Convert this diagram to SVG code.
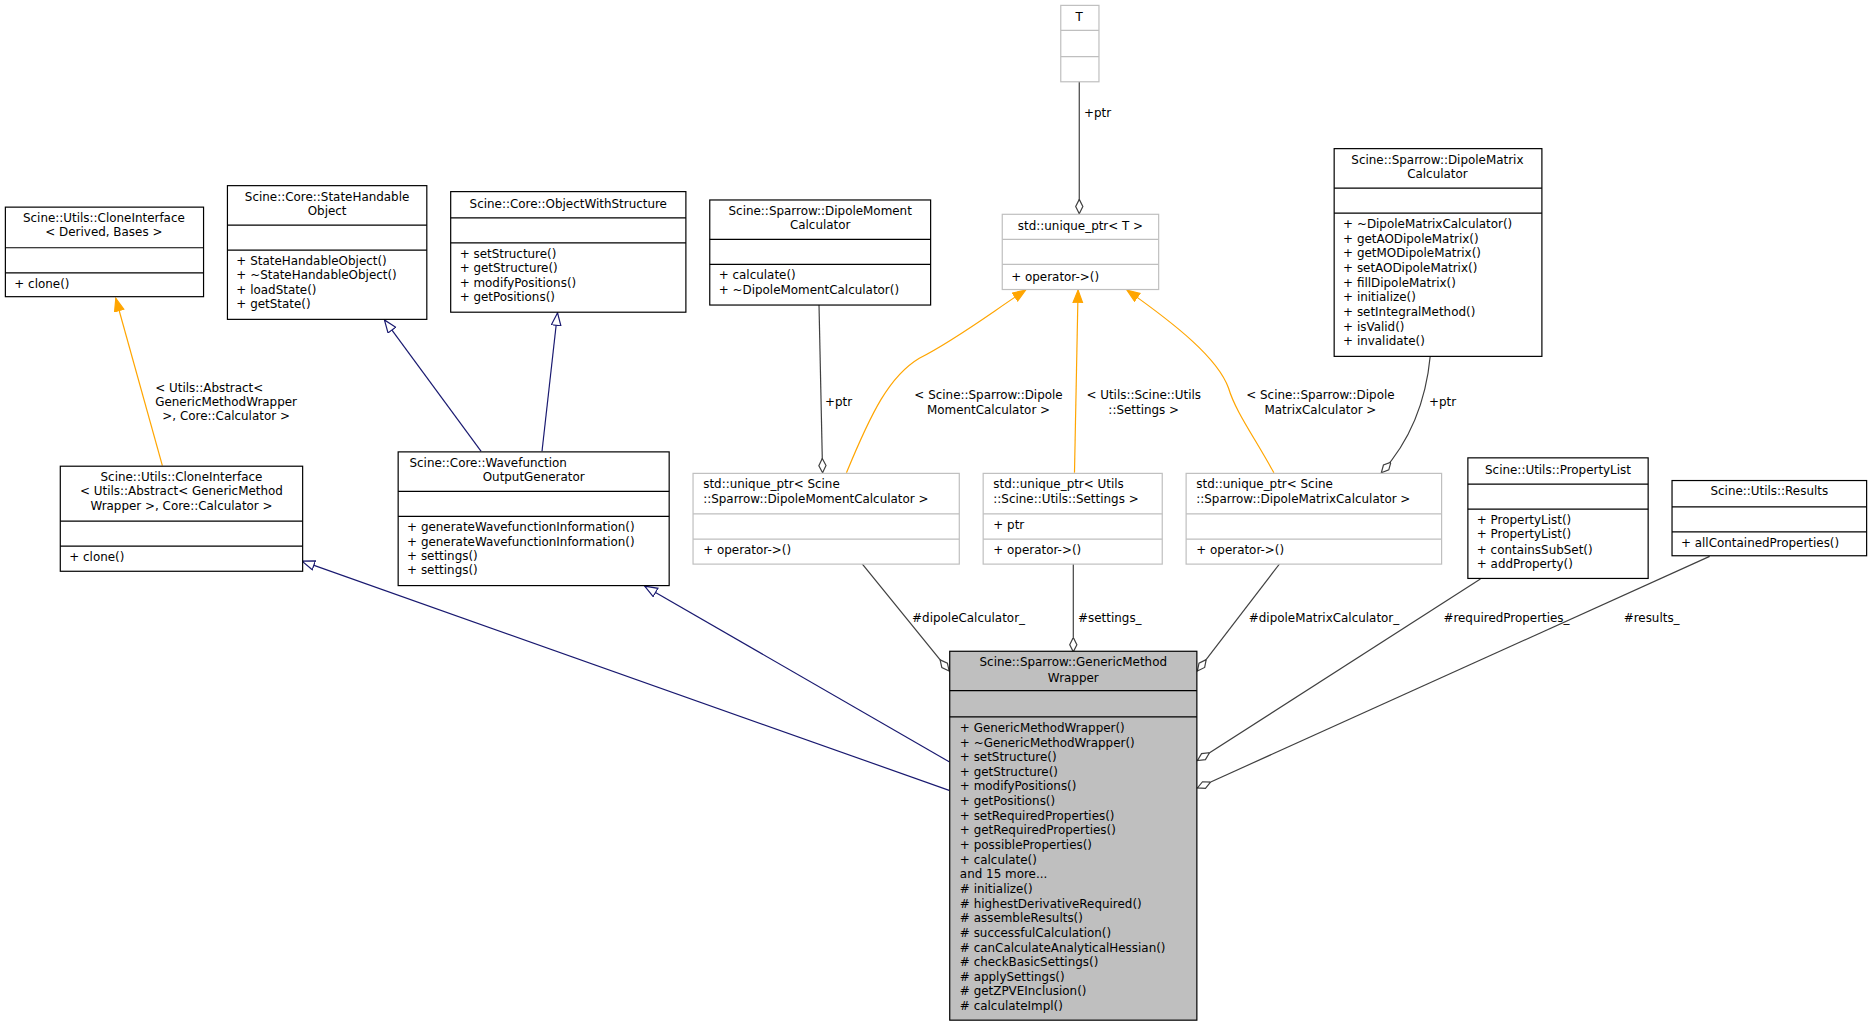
<svg xmlns="http://www.w3.org/2000/svg" width="1872" height="1027" viewBox="0 0 1872 1027">
<style>
text{font-family:"DejaVu Sans",sans-serif;font-size:10px;fill:#000}
.c{text-anchor:middle}
.b{fill:#fff;stroke:#000;stroke-width:1}
.g{fill:#fff;stroke:#bfbfbf;stroke-width:1}
.m{fill:#bfbfbf;stroke:#000;stroke-width:1}
.l{stroke:#000;stroke-width:1}
.lg{stroke:#bfbfbf;stroke-width:1}
.e{fill:none;stroke:#404040;stroke-width:1}
.n{fill:none;stroke:#191970;stroke-width:1}
.o{fill:none;stroke:#ffa500;stroke-width:1}
</style>
<defs>
<marker id="dia" markerUnits="userSpaceOnUse" markerWidth="14" markerHeight="8" refX="12" refY="4" orient="auto"><path d="M0,4 L6,1 L12,4 L6,7 Z" fill="#fff" stroke="#404040"/></marker>
<marker id="tri" markerUnits="userSpaceOnUse" markerWidth="13" markerHeight="10" refX="11" refY="4.5" orient="auto"><path d="M0.5,0.5 L11,4.5 L0.5,8.5 Z" fill="#fff" stroke="#191970"/></marker>
<marker id="ora" markerUnits="userSpaceOnUse" markerWidth="13" markerHeight="10" refX="11" refY="4.5" orient="auto"><path d="M0.5,0.5 L11,4.5 L0.5,8.5 Z" fill="#ffa500" stroke="#ffa500"/></marker>
</defs>
<rect width="1872" height="1027" fill="#fff"/>
<g transform="scale(1.19388)">
<g id="connectors">
<path class="o" d="M136,390 L97,250" marker-end="url(#ora)"/>
<text x="130" y="328">&lt; Utils::Abstract&lt;</text>
<text x="130" y="340">GenericMethodWrapper</text>
<text x="136" y="352"> &gt;, Core::Calculator &gt;</text>
<path class="n" d="M403,378 L322,268" marker-end="url(#tri)"/>
<path class="n" d="M454,378 L467,262" marker-end="url(#tri)"/>
<path class="e" d="M686,255 L689,396" marker-end="url(#dia)"/>
<text x="691" y="340">+ptr</text>
<path class="e" d="M904,68 L904,179" marker-end="url(#dia)"/>
<text x="908" y="98">+ptr</text>
<path class="o" d="M709,396 C730,345 745,315 770,300 C800,285 830,262 859,243" marker-end="url(#ora)"/>
<text class="c" x="828" y="334">&lt; Scine::Sparrow::Dipole</text>
<text class="c" x="828" y="347">MomentCalculator &gt;</text>
<path class="o" d="M900,396 L903,243" marker-end="url(#ora)"/>
<text class="c" x="958" y="334">&lt; Utils::Scine::Utils</text>
<text class="c" x="958" y="347">::Settings &gt;</text>
<path class="o" d="M1067,396 C1050,365 1035,345 1029,325 C1020,300 985,272 944,243" marker-end="url(#ora)"/>
<text class="c" x="1106" y="334">&lt; Scine::Sparrow::Dipole</text>
<text class="c" x="1106" y="347">MatrixCalculator &gt;</text>
<path class="e" d="M1198,298 C1195,330 1185,365 1157,396" marker-end="url(#dia)"/>
<text x="1197" y="340">+ptr</text>
<path class="e" d="M722,472 L795,562" marker-end="url(#dia)"/>
<text x="764" y="521">#dipoleCalculator_</text>
<path class="e" d="M899,472 L899,546" marker-end="url(#dia)"/>
<text x="903" y="521">#settings_</text>
<path class="e" d="M1072,472 L1003,562" marker-end="url(#dia)"/>
<text x="1046" y="521">#dipoleMatrixCalculator_</text>
<path class="e" d="M1240,485 L1003,637" marker-end="url(#dia)"/>
<text x="1209" y="521">#requiredProperties_</text>
<path class="e" d="M1432,466 L1003,660" marker-end="url(#dia)"/>
<text x="1360" y="521">#results_</text>
<path class="n" d="M795,662 L253,470" marker-end="url(#tri)"/>
<path class="n" d="M795,638 L540,491" marker-end="url(#tri)"/>
</g>
<g id="n1">
<rect class="b" x="4.5" y="173.5" width="166" height="75"/>
<text class="c" x="87" y="186">Scine::Utils::CloneInterface</text>
<text class="c" x="87" y="198">&lt; Derived, Bases &gt;</text>
<path class="l" d="M4.5,207.5H170.5M4.5,228.5H170.5"/>
<text x="12" y="241">+ clone()</text>
</g>
<g id="n2">
<rect class="b" x="190.5" y="155.5" width="167" height="112"/>
<text class="c" x="274" y="168">Scine::Core::StateHandable</text>
<text class="c" x="274" y="180">Object</text>
<path class="l" d="M190.5,188.5H357.5M190.5,209.5H357.5"/>
<text x="198" y="222">+ StateHandableObject()</text>
<text x="198" y="234">+ ~StateHandableObject()</text>
<text x="198" y="246">+ loadState()</text>
<text x="198" y="258">+ getState()</text>
</g>
<g id="n3">
<rect class="b" x="377.5" y="160.5" width="197" height="101"/>
<text class="c" x="476" y="174">Scine::Core::ObjectWithStructure</text>
<path class="l" d="M377.5,182.5H574.5M377.5,203.5H574.5"/>
<text x="385" y="216">+ setStructure()</text>
<text x="385" y="228">+ getStructure()</text>
<text x="385" y="240">+ modifyPositions()</text>
<text x="385" y="252">+ getPositions()</text>
</g>
<g id="n4">
<rect class="b" x="594.5" y="167.5" width="185" height="88"/>
<text class="c" x="687" y="180">Scine::Sparrow::DipoleMoment</text>
<text class="c" x="687" y="192">Calculator</text>
<path class="l" d="M594.5,200.5H779.5M594.5,221.5H779.5"/>
<text x="602" y="234">+ calculate()</text>
<text x="602" y="246">+ ~DipoleMomentCalculator()</text>
</g>
<g id="n5">
<rect class="g" x="888.5" y="4.5" width="32" height="64"/>
<text class="c" x="904" y="18">T</text>
<path class="lg" d="M888.5,25.5H920.5M888.5,47.5H920.5"/>
</g>
<g id="n6">
<rect class="g" x="839.5" y="179.5" width="131" height="63"/>
<text class="c" x="905" y="193">std::unique_ptr&lt; T &gt;</text>
<path class="lg" d="M839.5,200.5H970.5M839.5,221.5H970.5"/>
<text x="847" y="235">+ operator-&gt;()</text>
</g>
<g id="n7">
<rect class="b" x="1117.5" y="124.5" width="174" height="174"/>
<text class="c" x="1204" y="137">Scine::Sparrow::DipoleMatrix</text>
<text class="c" x="1204" y="149">Calculator</text>
<path class="l" d="M1117.5,157.5H1291.5M1117.5,178.5H1291.5"/>
<text x="1125" y="191">+ ~DipoleMatrixCalculator()</text>
<text x="1125" y="203.3">+ getAODipoleMatrix()</text>
<text x="1125" y="215.6">+ getMODipoleMatrix()</text>
<text x="1125" y="227.9">+ setAODipoleMatrix()</text>
<text x="1125" y="240.2">+ fillDipoleMatrix()</text>
<text x="1125" y="252.5">+ initialize()</text>
<text x="1125" y="264.8">+ setIntegralMethod()</text>
<text x="1125" y="277.1">+ isValid()</text>
<text x="1125" y="289.4">+ invalidate()</text>
</g>
<g id="n8">
<rect class="b" x="50.5" y="390.5" width="203" height="88"/>
<text class="c" x="152" y="403">Scine::Utils::CloneInterface</text>
<text class="c" x="152" y="415">&lt; Utils::Abstract&lt; GenericMethod</text>
<text class="c" x="152" y="427">Wrapper &gt;, Core::Calculator &gt;</text>
<path class="l" d="M50.5,436.5H253.5M50.5,457.5H253.5"/>
<text x="58" y="470">+ clone()</text>
</g>
<g id="n9">
<rect class="b" x="333.5" y="378.5" width="227" height="112"/>
<text x="343" y="391">Scine::Core::Wavefunction</text>
<text class="c" x="447" y="403">OutputGenerator</text>
<path class="l" d="M333.5,411.5H560.5M333.5,432.5H560.5"/>
<text x="341" y="445">+ generateWavefunctionInformation()</text>
<text x="341" y="457">+ generateWavefunctionInformation()</text>
<text x="341" y="469">+ settings()</text>
<text x="341" y="481">+ settings()</text>
</g>
<g id="n10">
<rect class="g" x="580.5" y="396.5" width="223" height="76"/>
<text x="589" y="409">std::unique_ptr&lt; Scine</text>
<text x="589" y="421">::Sparrow::DipoleMomentCalculator &gt;</text>
<path class="lg" d="M580.5,430.5H803.5M580.5,451.5H803.5"/>
<text x="589" y="464">+ operator-&gt;()</text>
</g>
<g id="n11">
<rect class="g" x="823.5" y="396.5" width="150" height="76"/>
<text x="832" y="409">std::unique_ptr&lt; Utils</text>
<text x="832" y="421">::Scine::Utils::Settings &gt;</text>
<path class="lg" d="M823.5,430.5H973.5M823.5,451.5H973.5"/>
<text x="832" y="443">+ ptr</text>
<text x="832" y="464">+ operator-&gt;()</text>
</g>
<g id="n12">
<rect class="g" x="993.5" y="396.5" width="214" height="76"/>
<text x="1002" y="409">std::unique_ptr&lt; Scine</text>
<text x="1002" y="421">::Sparrow::DipoleMatrixCalculator &gt;</text>
<path class="lg" d="M993.5,430.5H1207.5M993.5,451.5H1207.5"/>
<text x="1002" y="464">+ operator-&gt;()</text>
</g>
<g id="n13">
<rect class="b" x="1229.5" y="383.5" width="151" height="101"/>
<text class="c" x="1305" y="397">Scine::Utils::PropertyList</text>
<path class="l" d="M1229.5,405.5H1380.5M1229.5,426.5H1380.5"/>
<text x="1237" y="439">+ PropertyList()</text>
<text x="1237" y="451">+ PropertyList()</text>
<text x="1237" y="464">+ containsSubSet()</text>
<text x="1237" y="476">+ addProperty()</text>
</g>
<g id="n14">
<rect class="b" x="1400.5" y="402.5" width="163" height="63"/>
<text class="c" x="1482" y="415">Scine::Utils::Results</text>
<path class="l" d="M1400.5,424.5H1563.5M1400.5,445.5H1563.5"/>
<text x="1408" y="458">+ allContainedProperties()</text>
</g>
<g id="n15">
<rect class="m" x="795.5" y="545.5" width="207" height="309"/>
<text class="c" x="899" y="558">Scine::Sparrow::GenericMethod</text>
<text class="c" x="899" y="571">Wrapper</text>
<path class="l" d="M795.5,578.5H1002.5M795.5,600.5H1002.5"/>
<text x="804" y="613">+ GenericMethodWrapper()</text>
<text x="804" y="625.3">+ ~GenericMethodWrapper()</text>
<text x="804" y="637.6">+ setStructure()</text>
<text x="804" y="649.8">+ getStructure()</text>
<text x="804" y="662.1">+ modifyPositions()</text>
<text x="804" y="674.4">+ getPositions()</text>
<text x="804" y="686.6">+ setRequiredProperties()</text>
<text x="804" y="698.9">+ getRequiredProperties()</text>
<text x="804" y="711.2">+ possibleProperties()</text>
<text x="804" y="723.4">+ calculate()</text>
<text x="804" y="735.7">and 15 more...</text>
<text x="804" y="748">#  initialize()</text>
<text x="804" y="760.2">#  highestDerivativeRequired()</text>
<text x="804" y="772.5">#  assembleResults()</text>
<text x="804" y="784.8">#  successfulCalculation()</text>
<text x="804" y="797">#  canCalculateAnalyticalHessian()</text>
<text x="804" y="809.3">#  checkBasicSettings()</text>
<text x="804" y="821.6">#  applySettings()</text>
<text x="804" y="833.8">#  getZPVEInclusion()</text>
<text x="804" y="846">#  calculateImpl()</text>
</g>
</g>
</svg>
